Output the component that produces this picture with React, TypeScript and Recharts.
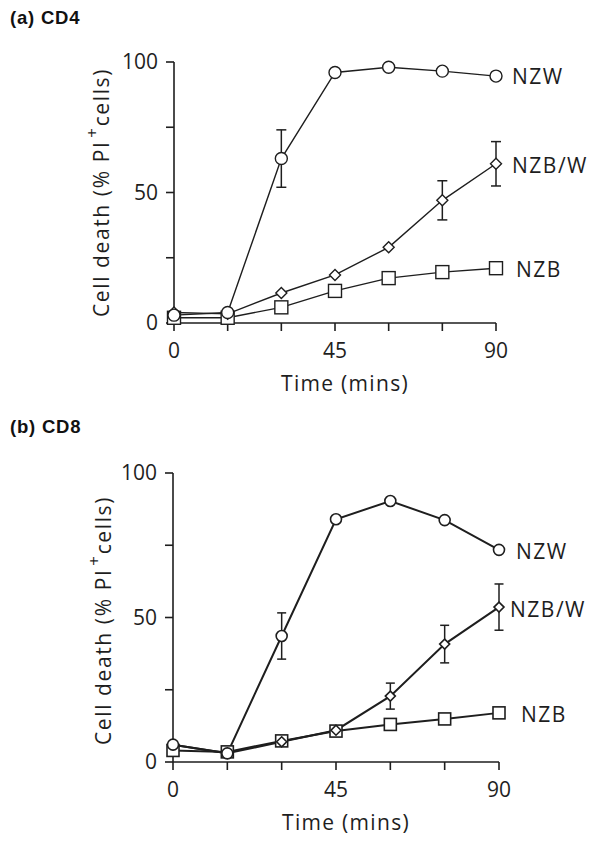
import React from 'react';
import { LineChart, Line, XAxis, YAxis, ErrorBar, LabelList } from 'recharts';

// ---- data ----
const times = [0, 15, 30, 45, 60, 75, 90];
const xTickLabels = ['0', '', '', '45', '', '', '90'];
const yTicks = [0, 25, 50, 75, 100];
const yTickLabels = ['0', '', '50', '', '100'];

const cd4Nzw = [3, 4, 63, 96, 98, 96.5, 94.6];
const cd4NzbW = [4, 3.5, 11.5, 18.4, 29, 47, 61];
const cd4Nzb = [2, 2, 6, 12.3, 17.2, 19.5, 21];
const cd4NzwErr = [null, null, 11, null, null, null, null];
const cd4NzbWErr = [null, null, null, null, null, 7.5, 8.5];

const cd8Nzw = [6, 3, 43.6, 84, 90.3, 83.7, 73.4];
const cd8NzbW = [6, 3, 7, 11, 22.8, 40.8, 53.6];
const cd8Nzb = [4, 3.5, 7.3, 10.7, 13, 14.9, 17];
const cd8NzwErr = [null, null, 8, null, null, null, null];
const cd8NzbWErr = [null, null, null, null, 4.5, 6.5, 8];

const seriesNames = ['NZW', 'NZB/W', 'NZB'];

const INK = '#1e1e1e';
const FONT = '"Open Sans", "DejaVu Sans", sans-serif';

function buildRows(nzw: number[], nzbw: number[], nzb: number[], nzwErr: (number | null)[], nzbwErr: (number | null)[]) {
  return times.map((t, i) => ({
    t,
    nzw: nzw[i],
    nzbw: nzbw[i],
    nzb: nzb[i],
    nzwErr: nzwErr[i] == null ? undefined : [nzwErr[i], nzwErr[i]],
    nzbwErr: nzbwErr[i] == null ? undefined : [nzbwErr[i], nzbwErr[i]],
  }));
}

const cd4Rows = buildRows(cd4Nzw, cd4NzbW, cd4Nzb, cd4NzwErr, cd4NzbWErr);
const cd8Rows = buildRows(cd8Nzw, cd8NzbW, cd8Nzb, cd8NzwErr, cd8NzbWErr);

const circleDot = (r: number, sw: number) => (p: any) => {
  const { cx, cy, index } = p;
  if (cx == null || cy == null) return <g key={`c${index}`} />;
  return <circle key={`c${index}`} cx={cx} cy={cy} r={r} fill="#fff" stroke={INK} strokeWidth={sw} />;
};
const squareDot = (s: number, sw: number) => (p: any) => {
  const { cx, cy, index } = p;
  if (cx == null || cy == null) return <g key={`s${index}`} />;
  return <rect key={`s${index}`} x={cx - s / 2} y={cy - s / 2} width={s} height={s} fill="#fff" stroke={INK} strokeWidth={sw} />;
};
const diamondDot = (h: number, sw: number) => (p: any) => {
  const { cx, cy, index } = p;
  if (cx == null || cy == null) return <g key={`d${index}`} />;
  return (
    <path
      key={`d${index}`}
      d={`M${cx},${cy - h} L${cx + h},${cy} L${cx},${cy + h} L${cx - h},${cy} Z`}
      fill="#fff"
      stroke={INK}
      strokeWidth={sw}
    />
  );
};

const endLabel = (name: string, dx: number, dy: number) => (p: any) => {
  const { x, y, index } = p;
  if (index !== times.length - 1) return null;
  return (
    <text
      x={x + dx}
      y={y + dy}
      fontFamily={FONT}
      fontSize={21}
      letterSpacing={1.5}
      fill={INK}
      dominantBaseline="central"
    >
      {name}
    </text>
  );
};

const yLabel = (dx: number, dy: number) => (p: any) => {
  const vb = p.viewBox || {};
  const cx = dx;
  const cy = vb.y + vb.height / 2 + dy;
  return (
    <text
      transform={`translate(${cx},${cy}) rotate(-90)`}
      textAnchor="middle"
      dominantBaseline="central"
      fontFamily={FONT}
      fontSize={21}
      letterSpacing={1.6}
      fill={INK}
    >
      Cell death (% PI
      <tspan dx={3} dy={-10} fontSize={17}>+</tspan>
      <tspan dy={10}>cells)</tspan>
    </text>
  );
};

const xLabel = (dxc: number, dy: number) => (p: any) => {
  const vb = p.viewBox || {};
  return (
    <text
      x={vb.x + vb.width / 2 + dxc}
      y={vb.y + dy}
      textAnchor="middle"
      dominantBaseline="central"
      fontFamily={FONT}
      fontSize={21}
      letterSpacing={1.3}
      fill={INK}
    >
      Time (mins)
    </text>
  );
};

type PanelProps = {
  rows: any[];
  top: number;
  height: number;
  margin: { top: number; right: number; bottom: number; left: number };
  lineW: number;
  dotW: number;
  circleR: number;
  squareS: number;
  diamondH: number;
  capW: number;
  labelOffsets: [number, number][];
  yLabelX: number;
  yLabelDy: number;
};

function Panel(props: PanelProps) {
  const { rows, top, height, margin, lineW, dotW, circleR, squareS, diamondH, capW, labelOffsets, yLabelX, yLabelDy } = props;
  const tickStyle = { fontFamily: FONT, fontSize: 21, fill: INK };
  return (
    <div style={{ position: 'absolute', left: 0, top }}>
      <LineChart width={600} height={height} data={rows} margin={margin}>
        <XAxis
          dataKey="t"
          type="number"
          domain={[0, 90]}
          ticks={times}
          tickFormatter={(v: number) => xTickLabels[times.indexOf(v)] ?? ''}
          tick={tickStyle}
          tickSize={8}
          tickMargin={12}
          height={30}
          axisLine={{ stroke: INK, strokeWidth: 1.6 }}
          tickLine={{ stroke: INK, strokeWidth: 1.6 }}
          interval={0}
          label={{ content: xLabel(10, 60) } as any}
        />
        <YAxis
          type="number"
          domain={[0, 100]}
          ticks={yTicks}
          tickFormatter={(v: number) => yTickLabels[yTicks.indexOf(v)] ?? ''}
          tick={tickStyle}
          tickSize={8}
          tickMargin={8}
          width={60}
          axisLine={{ stroke: INK, strokeWidth: 1.6 }}
          tickLine={{ stroke: INK, strokeWidth: 1.6 }}
          interval={0}
          label={{ content: yLabel(yLabelX, yLabelDy) } as any}
        />
        <Line
          dataKey="nzb"
          stroke={INK}
          strokeWidth={lineW}
          dot={squareDot(squareS, dotW)}
          isAnimationActive={false}
        >
          <LabelList dataKey="nzb" content={endLabel(seriesNames[2], labelOffsets[2][0], labelOffsets[2][1])} />
        </Line>
        <Line
          dataKey="nzbw"
          stroke={INK}
          strokeWidth={lineW}
          dot={diamondDot(diamondH, dotW)}
          isAnimationActive={false}
        >
          <ErrorBar dataKey="nzbwErr" width={capW} stroke={INK} strokeWidth={1.5} direction="y" />
          <LabelList dataKey="nzbw" content={endLabel(seriesNames[1], labelOffsets[1][0], labelOffsets[1][1])} />
        </Line>
        <Line
          dataKey="nzw"
          stroke={INK}
          strokeWidth={lineW}
          dot={circleDot(circleR, dotW)}
          isAnimationActive={false}
        >
          <ErrorBar dataKey="nzwErr" width={capW} stroke={INK} strokeWidth={1.5} direction="y" />
          <LabelList dataKey="nzw" content={endLabel(seriesNames[0], labelOffsets[0][0], labelOffsets[0][1])} />
        </Line>
      </LineChart>
    </div>
  );
}

const titleStyle: React.CSSProperties = {
  position: 'absolute',
  left: 10,
  fontFamily: '"Liberation Sans", Arial, sans-serif',
  fontWeight: 'bold',
  fontSize: 18.5,
  letterSpacing: 0.8,
  color: '#111',
  lineHeight: '22px',
  whiteSpace: 'nowrap',
};

export default function App() {
  return (
    <div style={{ position: 'absolute', left: 0, top: 0, width: 600, height: 841, background: '#fff', overflow: 'hidden' }}>
      <div style={{ ...titleStyle, top: 7 }}>(a) CD4</div>
      <div style={{ ...titleStyle, top: 416 }}>(b) CD8</div>
      <Panel
        rows={cd4Rows}
        top={0}
        height={400}
        margin={{ top: 62, right: 104, left: 114, bottom: 47 }}
        lineW={1.4}
        dotW={1.4}
        circleR={6}
        squareS={13}
        diamondH={5.5}
        capW={5}
        labelOffsets={[[16, 0], [16, 1], [20, 1]]}
        yLabelX={101}
        yLabelDy={0}
      />
      <Panel
        rows={cd8Rows}
        top={420}
        height={420}
        margin={{ top: 53, right: 101, left: 113, bottom: 48 }}
        lineW={2}
        dotW={1.6}
        circleR={5.5}
        squareS={12}
        diamondH={5}
        capW={4.5}
        labelOffsets={[[17, 1], [11, 2], [22, 1]]}
        yLabelX={103}
        yLabelDy={3}
      />
    </div>
  );
}
